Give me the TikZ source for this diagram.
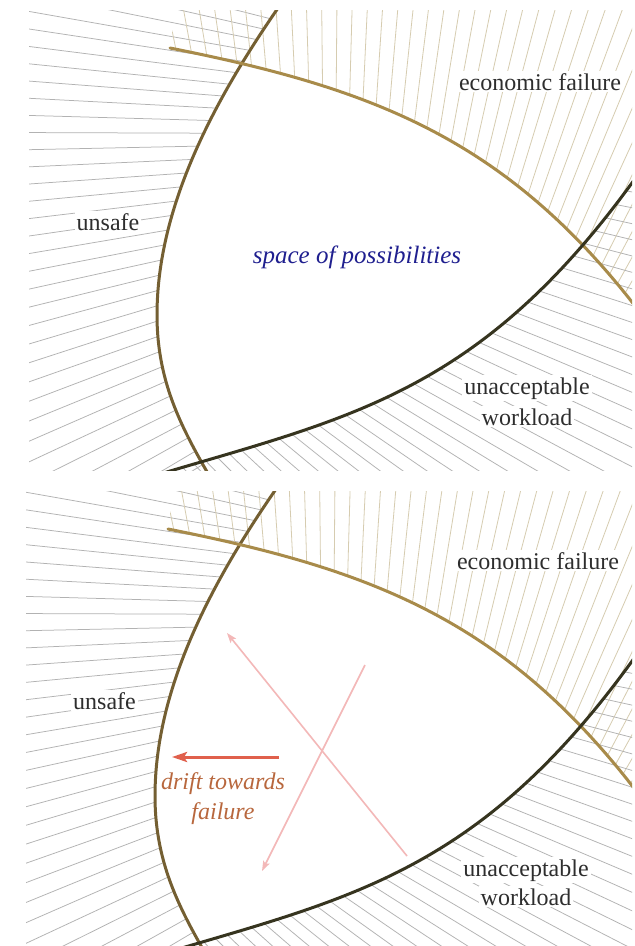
\documentclass[tikz,border=0pt]{standalone}
\usepackage{fontspec}
\setmainfont{Liberation Serif}
\usetikzlibrary{arrows.meta}
\definecolor{unsafec}{HTML}{745F32}
\definecolor{econc}{HTML}{A88B4A}
\definecolor{workc}{HTML}{36341F}
\definecolor{hatchgray}{HTML}{B2B2B2}
\definecolor{hatchtan}{HTML}{D6CCB0}
\definecolor{txtc}{HTML}{2E2E2E}
\definecolor{bluec}{HTML}{1F1F8F}
\definecolor{driftc}{HTML}{B8673D}
\definecolor{redarrow}{HTML}{E0604C}
\definecolor{pinkc}{HTML}{F3B8B8}
\tikzset{
  hatchL/.style={draw=hatchgray, line width=0.75pt},
  hatchE/.style={draw=hatchtan, line width=0.8pt},
  hatchW/.style={draw=hatchgray, line width=0.75pt},
  unsafeL/.style={draw=unsafec, line width=3pt, line cap=round},
  econL/.style={draw=econc, line width=3pt, line cap=round},
  workL/.style={draw=workc, line width=3pt, line cap=round},
  lbl/.style={text=txtc, font=\fontsize{24}{29}\selectfont, fill=white, inner sep=2pt, anchor=base},
  poss/.style={text=bluec, font=\fontsize{25}{30}\selectfont\itshape, inner sep=1pt, anchor=base},
  driftlbl/.style={text=driftc, font=\fontsize{24}{29}\selectfont\itshape, inner sep=1pt, anchor=base},
  redA/.style={draw=redarrow, line width=3pt, -{Stealth[length=15pt,width=10pt,inset=3pt]}},
  pinkA/.style={draw=pinkc, line width=1.6pt, -{Stealth[length=10pt,width=7pt,inset=2pt]}},
}
\newcommand\panelbase{%
  % hatching left of the unsafe boundary
  \begin{scope}
    \clip (0,-30) -- (290,-30) -- (285,-2) .. controls (216,96) and (157,205) .. (157,315) .. controls (157,385) and (184,432) .. (214,484) -- (214,520) -- (0,520) -- cycle;
    \foreach \a in {148,149.4,...,202} \draw[hatchL] (730,135) -- ++({1100*cos(\a)},{1100*sin(\a)});
  \end{scope}
  % hatching beyond the economic boundary
  \begin{scope}
    \clip (181,-30) -- (170,48) .. controls (370,88) and (507,137) .. (642,315) -- (680,315) -- (680,-30) -- cycle;
    \foreach \a in {-106,-104.9,...,-54} \draw[hatchE] (330,800) -- ++({1100*cos(\a)},{1100*sin(\a)});
  \end{scope}
  % hatching beyond the workload boundary
  \begin{scope}
    \clip (150,477) .. controls (350,417) and (482,395) .. (642,169) -- (680,150) -- (680,520) -- (140,520) -- cycle;
    \foreach \a in {3,4.05,...,60} \draw[hatchW] (-200,40) -- ++({1300*cos(\a)},{1300*sin(\a)});
  \end{scope}
  % boundaries
  \draw[unsafeL] (285,-2) .. controls (216,96) and (157,205) .. (157,315) .. controls (157,385) and (184,432) .. (214,484);
  \draw[econL] (170,48) .. controls (370,88) and (507,137) .. (642,315);
  \draw[workL] (150,477) .. controls (350,417) and (482,395) .. (642,169);
}
\begin{document}
\begin{tikzpicture}[x=1pt,y=-1pt]
\useasboundingbox[fill=white] (0,0) rectangle (635,946);
% ---------- top panel ----------
\begin{scope}
  \clip (29,10) rectangle (632,470);
  \panelbase
\end{scope}
\node[lbl] (econA) at (540,90) {economic failure};
\node[lbl] (unsafeA) at (108,230) {unsafe};
\node[poss] (spaceA) at (357,263) {space of possibilities};
\node[lbl] (workA1) at (527,394) {unacceptable};
\node[lbl] (workA2) at (527,425) {workload};
% ---------- bottom panel ----------
\begin{scope}[shift={(-2,481)}]
  \clip (28,10) rectangle (634,465);
  \panelbase
\end{scope}
\node[lbl] (econB) at (538,569) {economic failure};
\node[lbl] (unsafeB) at (104.5,709) {unsafe};
\node[lbl] (workB1) at (526,876) {unacceptable};
\node[lbl] (workB2) at (526,905) {workload};
\node[driftlbl] (driftB1) at (223,789) {drift towards};
\node[driftlbl] (driftB2) at (223,819) {failure};
\coordinate (pa1) at (407,856);
\coordinate (pa2) at (227,633);
\coordinate (pb1) at (365,665);
\coordinate (pb2) at (262,871);
\draw[pinkA] (pa1) -- (pa2);
\draw[pinkA] (pb1) -- (pb2);
\coordinate (ra1) at (279,757);
\coordinate (ra2) at (172,757);
\draw[redA] (ra1) -- (ra2);
\end{tikzpicture}
\end{document}
